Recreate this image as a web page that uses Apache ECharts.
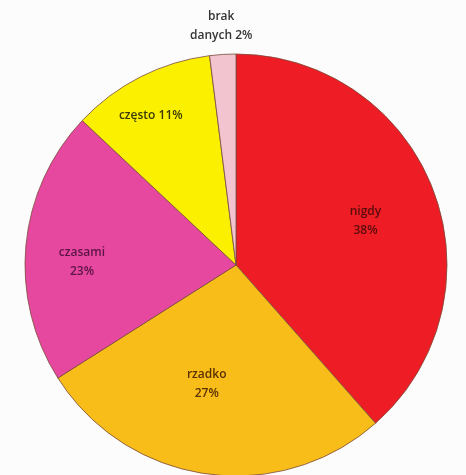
<!DOCTYPE html>
<html><head><meta charset="utf-8">
<script src="https://cdn.jsdelivr.net/npm/echarts@6/dist/echarts.min.js"></script>
<style>html,body{margin:0;padding:0;background:#fcfcfc}#c{width:466px;height:475px}</style>
</head><body><div id="c"></div>
<script>
const categories = ['nigdy', 'rzadko', 'czasami', 'często', 'brak danych'];
const values = [38.5, 27.5, 21, 11, 2];
const labelTexts = ['nigdy\n38%', 'rzadko\n27%', 'czasami\n23%', 'często 11%', 'brak\ndanych 2%'];
const colors = ['#ee1d25', '#f8bd18', '#e6479f', '#fbf000', '#f2c4cf'];
const textColors = ['#5a0c0c', '#5a3005', '#5a1545', '#3a3a05', '#333333'];
const offsets = [[28, -6], [-14, 12], [-46, 7], [-36, -53], [-8, -131]];

const chart = echarts.init(document.getElementById('c'));
chart.setOption({
  backgroundColor: '#fcfcfc',
  animation: false,
  series: [{
    type: 'pie',
    center: [236, 265],
    radius: 211,
    startAngle: 90,
    clockwise: true,
    avoidLabelOverlap: false,
    itemStyle: { borderColor: '#7a4a3a', borderWidth: 0.8 },
    labelLine: { show: false },
    data: categories.map((n, i) => ({
      name: n,
      value: values[i],
      itemStyle: { color: colors[i] },
      label: {
        show: true,
        position: 'inside',
        formatter: labelTexts[i],
        color: textColors[i],
        fontFamily: 'Open Sans',
        fontWeight: 600,
        fontSize: 12,
        lineHeight: 19,
        offset: offsets[i]
      }
    }))
  }]
});
</script></body></html>
